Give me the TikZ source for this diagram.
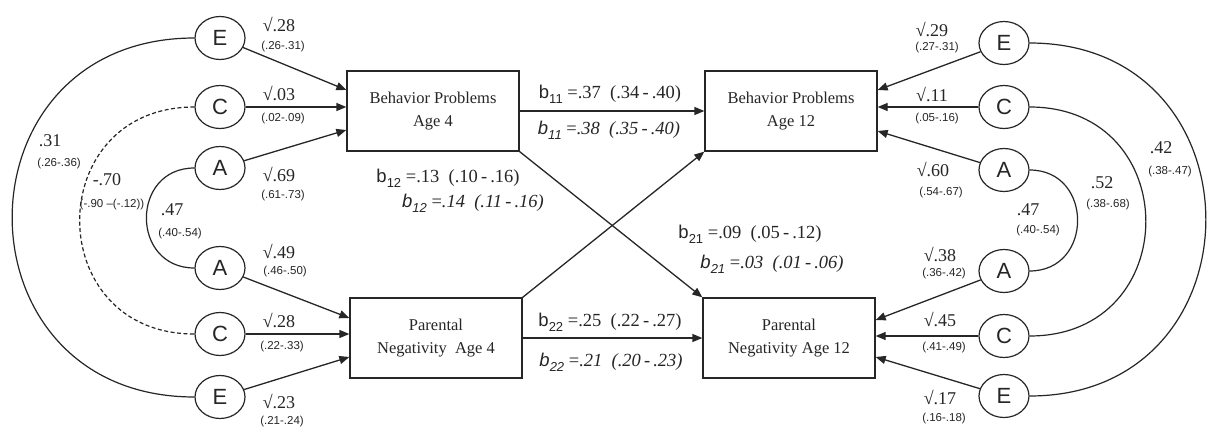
\documentclass[tikz,border=0pt]{standalone}
\usepackage{fontspec}
\setmainfont{Liberation Serif}
\setsansfont{Liberation Sans}
\usetikzlibrary{arrows.meta,shapes.geometric,calc}
\definecolor{ink}{HTML}{262626}
\newcommand{\bco}[1]{\textsf{b}\raisebox{-0.28em}{\sffamily\fontsize{13}{13}\selectfont #1}}
\newcommand{\bci}[1]{\textsf{\textit{b}}\raisebox{-0.28em}{\sffamily\itshape\fontsize{13}{13}\selectfont #1}}
\begin{document}
\begin{tikzpicture}[x=1pt,y=-1pt,color=ink,
  lat/.style={ellipse,draw,line width=1.2pt,minimum width=50pt,minimum height=43pt,inner sep=0pt,font=\sffamily\fontsize{22}{22}\selectfont},
  box/.style={rectangle,draw,line width=1.3pt,minimum width=172pt,minimum height=80pt,align=center,font=\fontsize{16.5}{23}\selectfont},
  arr/.style={line width=1.3pt,-{Triangle[length=10pt,width=8pt]}},
  cov/.style={line width=1.2pt},
  pv/.style={font=\fontsize{18}{18}\selectfont,inner sep=0pt},
  ci/.style={font=\sffamily\fontsize{11.5}{12}\selectfont,inner sep=0pt},
  bl/.style={font=\fontsize{18.5}{18}\selectfont,inner sep=0pt},
]
\useasboundingbox[fill=white] (0,0) rectangle (1208,428);
% boxes
\node[box] (bp4) at (433,111) {Behavior Problems\\Age 4};
\node[box] (pn4) at (436,338) {Parental\\Negativity~ Age 4};
\node[box] (bp12) at (791,111) {Behavior Problems\\Age 12};
\node[box] (pn12) at (789,338) {Parental\\Negativity Age 12};
% left latent variables
\node[lat] (lE1) at (220,38) {E};
\node[lat] (lC1) at (220,107) {C};
\node[lat] (lA1) at (220,168) {A};
\node[lat] (lA2) at (220,268) {A};
\node[lat] (lC2) at (220,334) {C};
\node[lat] (lE2) at (220,397) {E};
% right latent variables
\node[lat] (rE1) at (1004,43) {E};
\node[lat] (rC1) at (1004,107) {C};
\node[lat] (rA1) at (1004,170) {A};
\node[lat] (rA2) at (1004,271) {A};
\node[lat] (rC2) at (1004,336) {C};
\node[lat] (rE2) at (1004,396) {E};
% left arrows
\draw[arr] (lE1) -- ([yshift=21pt]bp4.west);
\draw[arr] (lC1) -- (lC1 -| bp4.west);
\draw[arr] (lA1) -- ([yshift=-19pt]bp4.west);
\draw[arr] (lA2) -- ([yshift=20pt]pn4.west);
\draw[arr] (lC2) -- (lC2 -| pn4.west);
\draw[arr] (lE2) -- ([yshift=-19pt]pn4.west);
% right arrows
\draw[arr] (rE1) -- ([yshift=21pt]bp12.east);
\draw[arr] (rC1) -- (rC1 -| bp12.east);
\draw[arr] (rA1) -- ([yshift=-20pt]bp12.east);
\draw[arr] (rA2) -- ([yshift=18pt]pn12.east);
\draw[arr] (rC2) -- (rC2 -| pn12.east);
\draw[arr] (rE2) -- ([yshift=-19pt]pn12.east);
% paths between boxes
\draw[arr] (bp4.east) -- (bp12.west);
\draw[arr] (pn4.east) -- (pn12.west);
\draw[arr] (bp4.south east) -- (pn12.north west);
\draw[arr] (pn4.north east) -- (bp12.south west);
% left correlations
\draw[cov] (lE1.west) .. controls +(-243,0) and +(-243,0) .. (lE2.west);
\draw[cov,dashed,dash pattern=on 4pt off 2.5pt] (lC1.west) .. controls +(-153,0) and +(-153,0) .. (lC2.west);
\draw[cov] (lA1.west) .. controls +(-64,0) and +(-64,0) .. (lA2.west);
% right correlations
\draw[cov] (rE1.east) .. controls +(235,0) and +(235,0) .. (rE2.east);
\draw[cov] (rC1.east) .. controls +(155,0) and +(155,0) .. (rC2.east);
\draw[cov] (rA1.east) .. controls +(64,0) and +(64,0) .. (rA2.east);
% left labels
\node[pv] (t1) at (279,25) {√.28};   \node[ci] (t2) at (283,47) {(.26-.31)};
\node[pv] (t3) at (279,94) {√.03};   \node[ci] (t4) at (283,119) {(.02-.09)};
\node[pv] (t5) at (279,175) {√.69};  \node[ci] (t6) at (283,196) {(.61-.73)};
\node[pv] (t7) at (279,252) {√.49};  \node[ci] (t8) at (285,272) {(.46-.50)};
\node[pv] (t9) at (279,321) {√.28};  \node[ci] (t10) at (282,347) {(.22-.33)};
\node[pv] (t11) at (279,402) {√.23}; \node[ci] (t12) at (282,422) {(.21-.24)};
\node[pv] (t13) at (50,141) {.31};   \node[ci] (t14) at (59,164) {(.26-.36)};
\node[pv] (t15) at (107,180) {-.70}; \node[ci] (t16) at (112,205) {(-.90 –(-.12))};
\node[pv] (t17) at (172,210) {.47};  \node[ci] (t18) at (180,234) {(.40-.54)};
% right labels
\node[pv] (u1) at (932,30) {√.29};   \node[ci] (u2) at (937,48) {(.27-.31)};
\node[pv] (u3) at (932,95) {√.11};   \node[ci] (u4) at (937,119) {(.05-.16)};
\node[pv] (u5) at (933,170) {√.60};  \node[ci] (u6) at (941,193) {(.54-.67)};
\node[pv] (u7) at (940,255) {√.38};  \node[ci] (u8) at (944,274) {(.36-.42)};
\node[pv] (u9) at (940,320) {√.45};  \node[ci] (u10) at (944,348) {(.41-.49)};
\node[pv] (u11) at (940,398) {√.17}; \node[ci] (u12) at (944,419) {(.16-.18)};
\node[pv] (u13) at (1102,183) {.52}; \node[ci] (u14) at (1108,205) {(.38-.68)};
\node[pv] (u15) at (1161,148) {.42}; \node[ci] (u16) at (1170,172) {(.38-.47)};
\node[pv] (u17) at (1028,210) {.47}; \node[ci] (u18) at (1038,231) {(.40-.54)};
% path coefficients
\node[bl] (c1) at (610,94) {\bco{11} =.37 ~(.34\,-\,.40)};
\node[bl] (c2) at (609,130) {\bci{11} =\textit{.38 ~(.35\,-\,.40)}};
\node[bl] (c3) at (448,178) {\bco{12} =.13 ~(.10\,-\,.16)};
\node[bl] (c4) at (473,203) {\bci{12} =\textit{.14 ~(.11\,-\,.16)}};
\node[bl] (c5) at (750,234) {\bco{21} =.09 ~(.05\,-\,.12)};
\node[bl] (c6) at (772,264) {\bci{21} =\textit{.03 ~(.01\,-\,.06)}};
\node[bl] (c7) at (610,322) {\bco{22} =.25 ~(.22\,-\,.27)};
\node[bl] (c8) at (611,362) {\bci{22} =\textit{.21 ~(.20\,-\,.23)}};
\end{tikzpicture}
\end{document}
